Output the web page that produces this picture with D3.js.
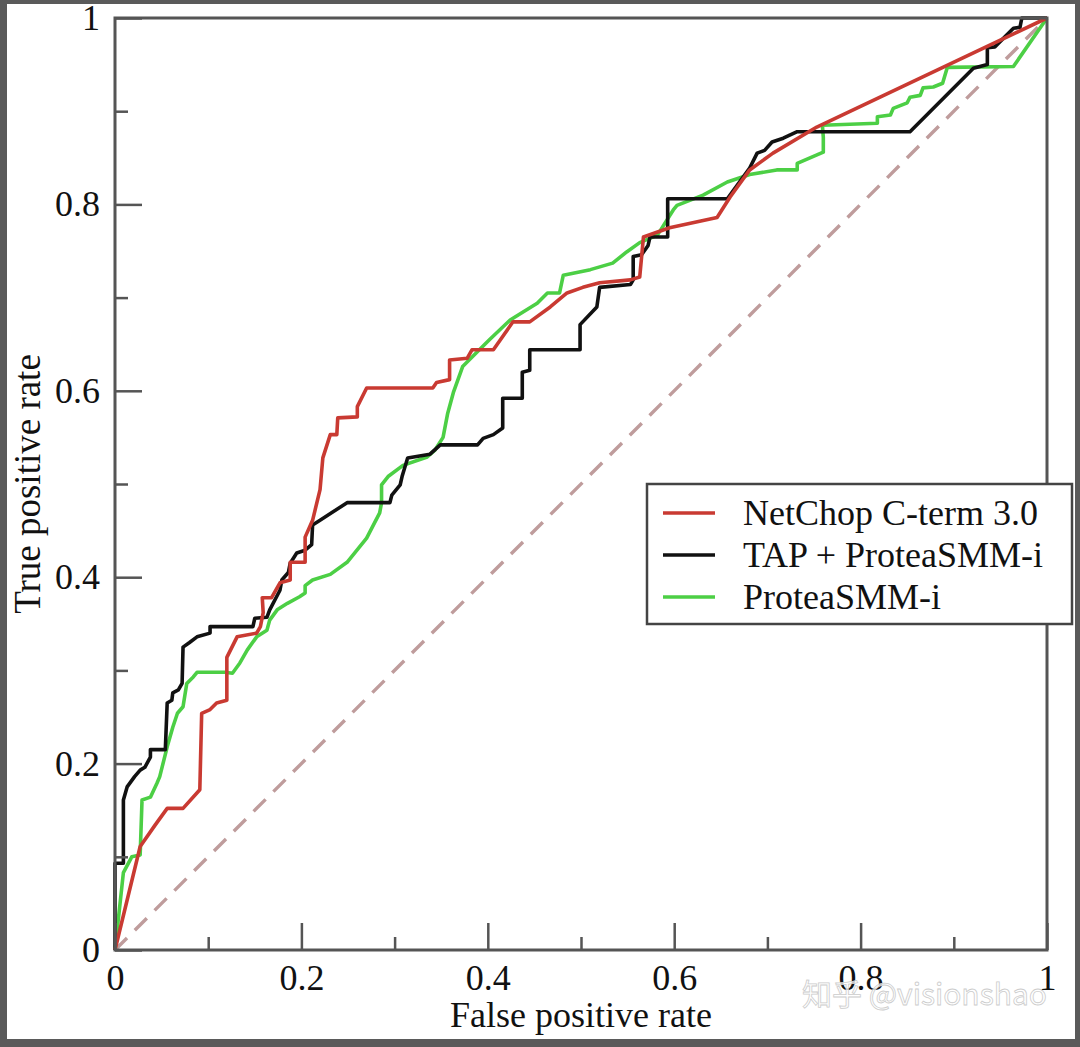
<!DOCTYPE html>
<html><head><meta charset="utf-8">
<script src="https://cdnjs.cloudflare.com/ajax/libs/d3/7.8.5/d3.min.js"></script>
<style>html,body{margin:0;padding:0;background:#5a5a5a;}svg{display:block;}</style>
</head><body>
<script>
// ---- data ----
const seriesNames = ["NetChop C-term 3.0", "TAP + ProteaSMM-i", "ProteaSMM-i"];
const netchopFPR = [0,0.027,0.043,0.056,0.073,0.091,0.093,0.102,0.109,0.120,0.120,0.131,0.152,0.156,0.159,0.158,0.168,0.177,0.188,0.188,0.204,0.204,0.212,0.220,0.223,0.231,0.238,0.239,0.260,0.260,0.270,0.341,0.345,0.359,0.359,0.378,0.383,0.406,0.427,0.445,0.467,0.485,0.502,0.520,0.553,0.563,0.567,0.595,0.646,0.660,0.681,0.706,0.753,1];
const netchopTPR = [0,0.111,0.134,0.152,0.152,0.172,0.254,0.258,0.265,0.268,0.314,0.336,0.340,0.347,0.362,0.378,0.378,0.394,0.397,0.416,0.416,0.443,0.461,0.494,0.528,0.553,0.553,0.571,0.572,0.583,0.603,0.603,0.609,0.612,0.633,0.635,0.644,0.644,0.674,0.674,0.690,0.705,0.711,0.716,0.719,0.722,0.765,0.775,0.786,0.808,0.837,0.855,0.883,1];
const tapFPR = [0,0,0.009,0.009,0.013,0.021,0.027,0.032,0.038,0.038,0.054,0.056,0.061,0.062,0.068,0.072,0.073,0.080,0.088,0.102,0.102,0.148,0.150,0.163,0.166,0.177,0.179,0.186,0.188,0.195,0.204,0.211,0.212,0.220,0.249,0.295,0.297,0.306,0.308,0.314,0.338,0.349,0.389,0.395,0.406,0.416,0.416,0.437,0.437,0.445,0.445,0.499,0.499,0.517,0.520,0.553,0.556,0.556,0.565,0.572,0.574,0.593,0.593,0.657,0.681,0.689,0.697,0.705,0.717,0.732,0.853,0.921,0.936,0.936,0.944,0.964,0.971,0.973,1];
const tapTPR = [0,0.093,0.093,0.161,0.175,0.186,0.193,0.196,0.207,0.215,0.215,0.265,0.268,0.276,0.279,0.286,0.325,0.330,0.336,0.340,0.347,0.347,0.356,0.357,0.365,0.386,0.397,0.405,0.415,0.426,0.429,0.435,0.456,0.461,0.480,0.480,0.488,0.499,0.508,0.528,0.532,0.542,0.542,0.549,0.553,0.560,0.592,0.592,0.620,0.622,0.644,0.644,0.671,0.690,0.711,0.714,0.719,0.744,0.746,0.756,0.765,0.765,0.806,0.806,0.839,0.855,0.858,0.867,0.871,0.878,0.878,0.946,0.950,0.968,0.969,0.989,0.990,1,1];
const smmFPR = [0,0.009,0.018,0.027,0.029,0.038,0.045,0.048,0.056,0.062,0.067,0.073,0.077,0.084,0.088,0.118,0.126,0.134,0.142,0.152,0.163,0.166,0.174,0.185,0.198,0.204,0.204,0.212,0.231,0.249,0.270,0.284,0.286,0.286,0.293,0.309,0.335,0.343,0.352,0.357,0.363,0.373,0.388,0.402,0.424,0.453,0.464,0.477,0.481,0.510,0.534,0.549,0.563,0.582,0.599,0.603,0.631,0.657,0.681,0.710,0.732,0.732,0.760,0.760,0.759,0.818,0.818,0.832,0.835,0.850,0.853,0.864,0.867,0.878,0.888,0.893,0.964,1];
const smmTPR = [0,0.083,0.100,0.102,0.161,0.164,0.179,0.186,0.218,0.239,0.254,0.261,0.286,0.293,0.298,0.298,0.297,0.308,0.322,0.336,0.343,0.354,0.365,0.372,0.379,0.383,0.391,0.397,0.403,0.416,0.442,0.469,0.480,0.499,0.508,0.520,0.529,0.536,0.550,0.576,0.598,0.626,0.641,0.655,0.676,0.694,0.705,0.705,0.724,0.730,0.737,0.749,0.759,0.767,0.794,0.799,0.810,0.824,0.832,0.837,0.837,0.844,0.856,0.872,0.885,0.887,0.894,0.896,0.903,0.909,0.915,0.917,0.925,0.926,0.930,0.947,0.948,1];
const majorTicks = [0, 0.2, 0.4, 0.6, 0.8, 1];
const minorTicks = [0.1, 0.3, 0.5, 0.7, 0.9];
const xTitle = "False positive rate";
const yTitle = "True positive rate";
const colors = ["#c93a32", "#111111", "#4ccf45"];

// ---- layout ----
const W = 1080, H = 1047;
const L = 115, R = 1047, T = 18, B = 950;
const svg = d3.select("body").append("svg").attr("width", W).attr("height", H);
svg.append("rect").attr("width", W).attr("height", H).attr("fill", "#5a5a5a");
svg.append("rect").attr("x", 7).attr("y", 4).attr("width", 1068).attr("height", 1035).attr("fill", "#fff");

const x = d3.scaleLinear().domain([0, 1]).range([L, R]);
const y = d3.scaleLinear().domain([0, 1]).range([B, T]);
const font = "'Liberation Serif', 'Times New Roman', serif";

// diagonal
svg.append("path").datum([[0,0],[1,1]])
  .attr("d", d3.line().x(d => x(d[0])).y(d => y(d[1])))
  .attr("stroke", "#bf9c9c").attr("stroke-width", 3.4).attr("fill", "none")
  .attr("stroke-dasharray", "17,11");

// curves
const seriesData = [
  d3.zip(netchopFPR, netchopTPR),
  d3.zip(tapFPR, tapTPR),
  d3.zip(smmFPR, smmTPR)
];
const line = d3.line().x(d => x(d[0])).y(d => y(d[1]));
[2, 1, 0].forEach(i => {
  svg.append("path").datum(seriesData[i]).attr("d", line)
    .attr("fill", "none").attr("stroke", colors[i]).attr("stroke-width", 3.6)
    .attr("stroke-linejoin", "round");
});

// frame
svg.append("rect").attr("x", L).attr("y", T).attr("width", R - L).attr("height", B - T)
  .attr("fill", "none").attr("stroke", "#555").attr("stroke-width", 3);

// axes
function styleAxis(g) {
  g.select(".domain").remove();
  g.selectAll(".tick line").attr("stroke", "#555").attr("stroke-width", 2.5);
  g.selectAll("text").attr("font-family", font).attr("font-size", 36).attr("fill", "#111");
}
const fmt = d3.format("~g");
svg.append("g").attr("transform", `translate(0,${B})`)
  .call(d3.axisBottom(x).tickValues(minorTicks).tickSize(-13).tickFormat(""))
  .call(styleAxis);
svg.append("g").attr("transform", `translate(0,${B})`)
  .call(d3.axisBottom(x).tickValues(majorTicks).tickSize(-27).tickPadding(14).tickFormat(fmt))
  .call(styleAxis);
svg.append("g").attr("transform", `translate(${L},0)`)
  .call(d3.axisLeft(y).tickValues(minorTicks).tickSize(-13).tickFormat(""))
  .call(styleAxis);
svg.append("g").attr("transform", `translate(${L},0)`)
  .call(d3.axisLeft(y).tickValues(majorTicks).tickSize(-27).tickPadding(15).tickFormat(fmt))
  .call(styleAxis);

// titles
svg.append("text").attr("x", (L + R) / 2).attr("y", 1027).attr("text-anchor", "middle")
  .attr("font-family", font).attr("font-size", 36).attr("fill", "#111").text(xTitle);
svg.append("text").attr("transform", `translate(40,${(T + B) / 2}) rotate(-90)`)
  .attr("text-anchor", "middle").attr("font-family", font).attr("font-size", 37)
  .attr("fill", "#111").text(yTitle);

// legend
const lg = svg.append("g");
lg.append("rect").attr("x", 647).attr("y", 484).attr("width", 425).attr("height", 140)
  .attr("fill", "#fff").attr("stroke", "#444").attr("stroke-width", 2.5);
seriesNames.forEach((name, i) => {
  const cy = 513 + i * 42;
  lg.append("line").attr("x1", 663).attr("x2", 715).attr("y1", cy).attr("y2", cy)
    .attr("stroke", colors[i]).attr("stroke-width", 3.6);
  lg.append("text").attr("x", 743).attr("y", cy + 12).attr("font-family", font)
    .attr("font-size", 36).attr("fill", "#111").text(name);
});

// watermark
svg.append("text").attr("x", 1047).attr("y", 1005).attr("text-anchor", "end")
  .attr("font-family", "'Noto Sans CJK SC', 'Noto Sans', sans-serif").attr("font-size", 30)
  .attr("fill", "#ffffff").attr("fill-opacity", 0.75).attr("stroke", "#cccccc").attr("stroke-width", 0.8)
  .text("知乎 @visionshao");
</script>
</body></html>
